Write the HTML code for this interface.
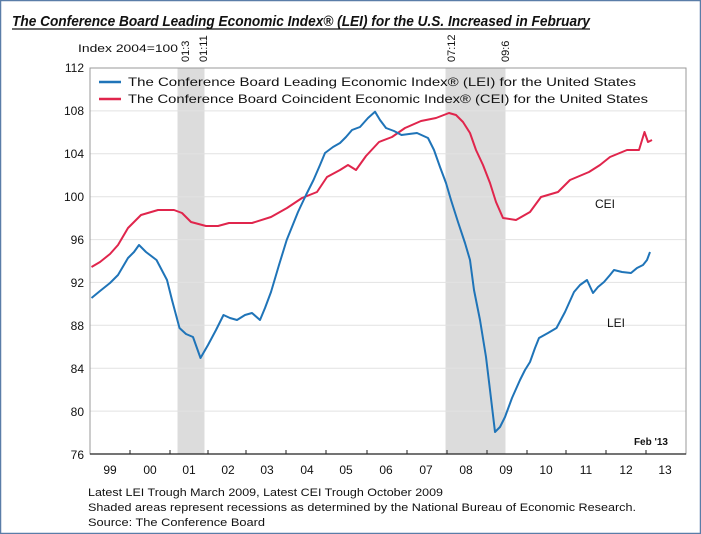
<!DOCTYPE html>
<html><head><meta charset="utf-8"><style>
html,body{margin:0;padding:0;background:#fff;}
svg{display:block;font-family:"Liberation Sans",Arial,sans-serif;}
</style></head><body>
<svg width="701" height="534" viewBox="0 0 701 534" xmlns="http://www.w3.org/2000/svg">
<rect x="0.5" y="0.5" width="700" height="533" fill="#fff" stroke="#5a7da8" stroke-width="1.5"/>
<text x="12" y="26" font-size="15" font-weight="bold" font-style="italic" textLength="578" lengthAdjust="spacingAndGlyphs" fill="#111">The Conference Board Leading Economic Index® (LEI) for the U.S. Increased in February</text>
<line x1="12" y1="29" x2="590" y2="29" stroke="#111" stroke-width="1.2"/>
<text x="78" y="52" font-size="11" textLength="100" lengthAdjust="spacingAndGlyphs" fill="#111">Index 2004=100</text>
<g font-size="11" fill="#111">
<text transform="translate(189,62) rotate(-90)">01:3</text>
<text transform="translate(207,62) rotate(-90)">01:11</text>
<text transform="translate(455,62) rotate(-90)">07:12</text>
<text transform="translate(509,62) rotate(-90)">09:6</text>
</g>
<!-- recessions -->
<rect x="177.5" y="68" width="27" height="386" fill="#dcdcdc"/>
<rect x="445.5" y="68" width="60" height="386" fill="#dcdcdc"/>
<!-- grid -->
<g stroke="#e2e2e2" stroke-width="1">
<line x1="90" y1="110.9" x2="686" y2="110.9"/><line x1="90" y1="153.8" x2="686" y2="153.8"/>
<line x1="90" y1="196.7" x2="686" y2="196.7"/><line x1="90" y1="239.6" x2="686" y2="239.6"/>
<line x1="90" y1="282.4" x2="686" y2="282.4"/><line x1="90" y1="325.3" x2="686" y2="325.3"/>
<line x1="90" y1="368.2" x2="686" y2="368.2"/><line x1="90" y1="411.1" x2="686" y2="411.1"/>
</g>
<rect x="90" y="68" width="596" height="386" fill="none" stroke="#999" stroke-width="1"/>
<line x1="90" y1="454" x2="686" y2="454" stroke="#222" stroke-width="1.2"/>
<g stroke="#222" stroke-width="1">
<line x1="130" y1="450" x2="130" y2="454"/><line x1="170" y1="450" x2="170" y2="454"/><line x1="208" y1="450" x2="208" y2="454"/><line x1="246" y1="450" x2="246" y2="454"/><line x1="286" y1="450" x2="286" y2="454"/><line x1="326" y1="450" x2="326" y2="454"/><line x1="367" y1="450" x2="367" y2="454"/><line x1="407" y1="450" x2="407" y2="454"/><line x1="447" y1="450" x2="447" y2="454"/><line x1="487" y1="450" x2="487" y2="454"/><line x1="527" y1="450" x2="527" y2="454"/><line x1="566" y1="450" x2="566" y2="454"/><line x1="606" y1="450" x2="606" y2="454"/><line x1="646" y1="450" x2="646" y2="454"/>
</g>
<g font-size="12" fill="#111" text-anchor="end">
<text x="84" y="72">112</text><text x="84" y="115">108</text><text x="84" y="158">104</text><text x="84" y="201">100</text>
<text x="84" y="244">96</text><text x="84" y="287">92</text><text x="84" y="330">88</text><text x="84" y="373">84</text>
<text x="84" y="416">80</text><text x="84" y="459">76</text>
</g>
<g font-size="12" fill="#111" text-anchor="middle">
<text x="110" y="474">99</text><text x="150" y="474">00</text><text x="189" y="474">01</text><text x="228" y="474">02</text><text x="267" y="474">03</text><text x="307" y="474">04</text><text x="346" y="474">05</text><text x="386" y="474">06</text><text x="426" y="474">07</text><text x="466" y="474">08</text><text x="506" y="474">09</text><text x="546" y="474">10</text><text x="586" y="474">11</text><text x="626" y="474">12</text><text x="665" y="474">13</text>
</g>
<text x="668" y="445" font-size="10" font-weight="bold" text-anchor="end" fill="#111">Feb '13</text>
<!-- legend -->
<line x1="99" y1="82" x2="121" y2="82" stroke="#1f74b8" stroke-width="2.5"/>
<text x="128" y="86" font-size="12" fill="#111" textLength="508" lengthAdjust="spacingAndGlyphs">The Conference Board Leading Economic Index® (LEI) for the United States</text>
<line x1="99" y1="99" x2="121" y2="99" stroke="#e0254c" stroke-width="2.5"/>
<text x="128" y="103" font-size="12" fill="#111" textLength="520" lengthAdjust="spacingAndGlyphs">The Conference Board Coincident Economic Index® (CEI) for the United States</text>
<!-- series -->
<polyline fill="none" stroke="#e0254c" stroke-width="2" stroke-linejoin="round" points="91.5,267 100,262 110,254 118,245 128,228 141,215 158,210 174,210 182,213 191,222 206,226 218,226 229,223 252,223 271,217 287,208 302,198 317,192 327,177 340,170 348,165 356,170 366,156 379,142 392,137 405,128 421,121 436,118 449,113 456,115 463,122 470,133 476,150 483,165 490,183 496,202 503,218 516,220 530,212 541,197 558,192 570,180 589,172 600,165 610,157 627,150 639,150 644.5,132 648,142 652,140"/>
<polyline fill="none" stroke="#1f74b8" stroke-width="2" stroke-linejoin="round" points="91.5,298 100,291 110,283 118,275 128,258 134,252 139,245 146,252 156.5,260 167,280 172,300 179.5,328 186,334 193,337 200.5,358 208,345 216,330 223.5,315 230,318 237,320 245,315 252,313 260,320 265,308 271,292 279,265 286.7,240 298,212 306,195 313.5,180 320,165 325,153 333,147 340,143 346,137 352,130 360,127 368,118 375,111.7 380,120 386,128 394,131 401.5,135 409,134 417,133 428,138 434,150 440,167 446,183 451,200 458,222 465,243 470,260 474,290 480,320 486,357 490,390 495,432 500,427 505,417 512,398 520,380 525,370 530,362 535,348 539,338 548,333 556.5,328 565,312 574,292 580,285 587,280 593,293 598,287 604,282 610,275 614,270 622,272 631,273 637,268 643,265 647,260 650,252"/>
<text x="595" y="208" font-size="12" fill="#111">CEI</text>
<text x="607" y="327" font-size="12" fill="#111">LEI</text>
<g font-size="11" fill="#111">
<text x="88" y="496" textLength="355" lengthAdjust="spacingAndGlyphs">Latest LEI Trough March 2009, Latest CEI Trough October 2009</text>
<text x="88" y="511" textLength="548" lengthAdjust="spacingAndGlyphs">Shaded areas represent recessions as determined by the National Bureau of Economic Research.</text>
<text x="88" y="526" textLength="177" lengthAdjust="spacingAndGlyphs">Source: The Conference Board</text>
</g>
</svg>
</body></html>
